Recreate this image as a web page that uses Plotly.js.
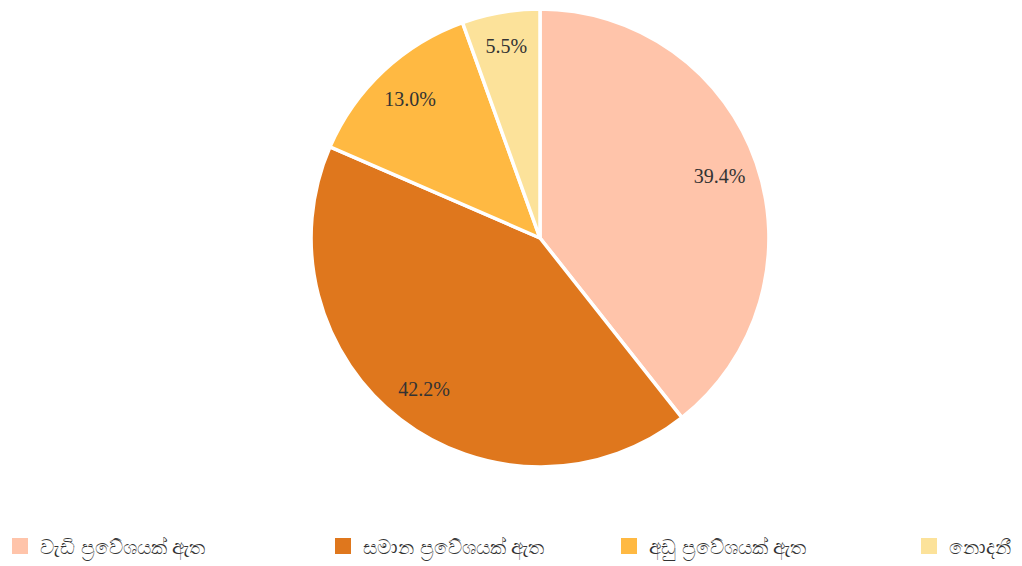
<!DOCTYPE html>
<html><head><meta charset="utf-8">
<script src="https://cdn.plot.ly/plotly-3.0.1.min.js"></script>
<style>body{margin:0}</style></head>
<body><div id="chart" style="width:1022px;height:566px"></div>
<script>
var labels = ["වැඩි ප්‍රවේශයක් ඇත", "සමාන ප්‍රවේශයක් ඇත", "අඩු ප්‍රවේශයක් ඇත", "නොදනී"];
var values = [39.4, 42.2, 13.0, 5.5];
var colors = ["#FFC4AA", "#DF771D", "#FFB942", "#FCE29A"];
var dom = {x: [230/1022, 850/1022], y: [0.1587, 0.9837]};
var legendLeft = [0, 323, 609, 909];

var traces = [{
  type: 'pie', labels: labels, values: values, sort: false, direction: 'clockwise',
  domain: dom, showlegend: false,
  marker: {colors: colors, line: {color: '#fff', width: 3.5}},
  textinfo: 'none', hoverinfo: 'label+percent'
}, {
  type: 'pie', labels: labels, values: values, sort: false, direction: 'clockwise',
  domain: dom, hole: 0.66, showlegend: false, hoverinfo: 'skip',
  marker: {colors: labels.map(function(){return 'rgba(0,0,0,0)';}), line: {width: 0}},
  textinfo: 'percent', textposition: 'inside', insidetextorientation: 'horizontal',
  texttemplate: '%{percent:.1%}',
  textfont: {family: 'Liberation Serif', size: 20, color: '#333'}
}];
var layout = {
  width: 1022, height: 566,
  margin: {l: 0, r: 0, t: 0, b: 0},
  showlegend: true,
  xaxis: {visible: false}, yaxis: {visible: false},
  paper_bgcolor: '#fff', plot_bgcolor: 'rgba(0,0,0,0)'
};
labels.forEach(function(lab, i) {
  var key = i === 0 ? 'legend' : 'legend' + (i + 1);
  traces.push({type: 'scatter', mode: 'markers', x: [null], y: [null], name: lab,
    legend: key, showlegend: true, hoverinfo: 'skip',
    marker: {symbol: 'square', size: 18, color: colors[i]}});
  layout[key] = {orientation: 'h', xref: 'paper', yref: 'paper', x: legendLeft[i] / 1022, xanchor: 'left',
    y: 0.016, yanchor: 'middle', itemsizing: 'trace', bgcolor: 'rgba(0,0,0,0)',
    font: {family: 'Liberation Sans, sans-serif', size: 20, color: '#333'}};
});
Plotly.newPlot('chart', traces, layout, {displayModeBar: false});
</script></body></html>
